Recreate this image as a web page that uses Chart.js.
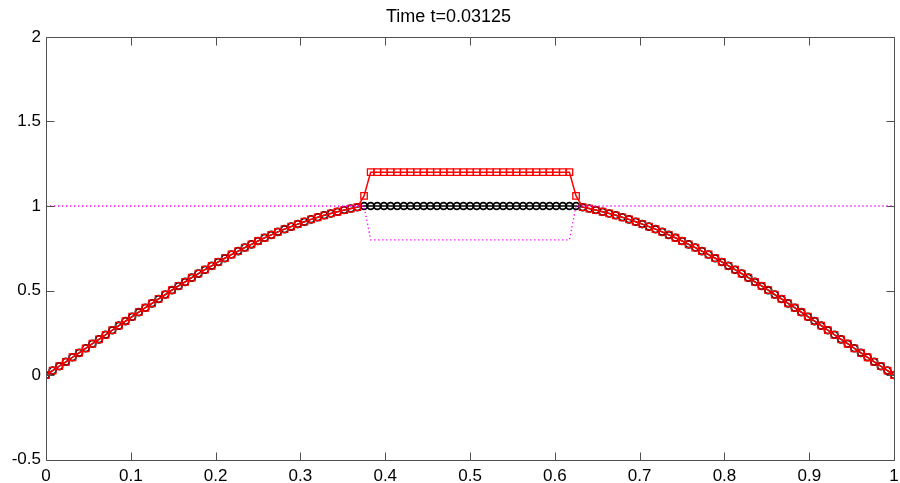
<!DOCTYPE html>
<html>
<head>
<meta charset="utf-8">
<script src="https://cdn.jsdelivr.net/npm/chart.js@4/dist/chart.umd.min.js"></script>
<style>
  body { margin: 0; background: #fff; }
  canvas { display: block; }
</style>
</head>
<body>
<canvas id="myChart" width="900" height="483"></canvas>
<script>
// grid nodes x_i = i/128
const xs = [0, 0.0078125, 0.015625, 0.0234375, 0.03125, 0.0390625, 0.046875, 0.0546875, 0.0625, 0.0703125,
    0.078125, 0.0859375, 0.09375, 0.1015625, 0.109375, 0.1171875, 0.125, 0.1328125, 0.140625, 0.1484375,
    0.15625, 0.1640625, 0.171875, 0.1796875, 0.1875, 0.1953125, 0.203125, 0.2109375, 0.21875, 0.2265625,
    0.234375, 0.2421875, 0.25, 0.2578125, 0.265625, 0.2734375, 0.28125, 0.2890625, 0.296875, 0.3046875,
    0.3125, 0.3203125, 0.328125, 0.3359375, 0.34375, 0.3515625, 0.359375, 0.3671875, 0.375, 0.3828125,
    0.390625, 0.3984375, 0.40625, 0.4140625, 0.421875, 0.4296875, 0.4375, 0.4453125, 0.453125, 0.4609375,
    0.46875, 0.4765625, 0.484375, 0.4921875, 0.5, 0.5078125, 0.515625, 0.5234375, 0.53125, 0.5390625,
    0.546875, 0.5546875, 0.5625, 0.5703125, 0.578125, 0.5859375, 0.59375, 0.6015625, 0.609375, 0.6171875,
    0.625, 0.6328125, 0.640625, 0.6484375, 0.65625, 0.6640625, 0.671875, 0.6796875, 0.6875, 0.6953125,
    0.703125, 0.7109375, 0.71875, 0.7265625, 0.734375, 0.7421875, 0.75, 0.7578125, 0.765625, 0.7734375,
    0.78125, 0.7890625, 0.796875, 0.8046875, 0.8125, 0.8203125, 0.828125, 0.8359375, 0.84375, 0.8515625,
    0.859375, 0.8671875, 0.875, 0.8828125, 0.890625, 0.8984375, 0.90625, 0.9140625, 0.921875, 0.9296875,
    0.9375, 0.9453125, 0.953125, 0.9609375, 0.96875, 0.9765625, 0.984375, 0.9921875, 1];

// solution u (black, circles)
const u = [0, 0.026, 0.052, 0.078, 0.105, 0.131, 0.158, 0.185, 0.211, 0.238,
    0.265, 0.292, 0.319, 0.345, 0.372, 0.398, 0.424, 0.450, 0.476, 0.502,
    0.527, 0.551, 0.576, 0.600, 0.623, 0.646, 0.669, 0.691, 0.713, 0.733,
    0.754, 0.773, 0.793, 0.812, 0.829, 0.847, 0.863, 0.878, 0.893, 0.907,
    0.921, 0.933, 0.945, 0.956, 0.966, 0.976, 0.985, 0.993, 1,
    1, 1, 1, 1, 1, 1, 1, 1, 1, 1, 1, 1, 1, 1, 1, 1, 1, 1, 1, 1, 1, 1, 1, 1, 1, 1, 1, 1, 1, 1, 1,
    1, 0.993, 0.985, 0.976, 0.966, 0.956, 0.945, 0.933, 0.921,
    0.907, 0.893, 0.878, 0.863, 0.847, 0.829, 0.812, 0.793, 0.773, 0.754,
    0.733, 0.713, 0.691, 0.669, 0.646, 0.623, 0.600, 0.576, 0.551, 0.527,
    0.502, 0.476, 0.450, 0.424, 0.398, 0.372, 0.345, 0.319, 0.292, 0.265,
    0.238, 0.211, 0.185, 0.158, 0.131, 0.105, 0.078, 0.052, 0.026, 0];

// second curve v (red, squares)
const v = [0, 0.026, 0.052, 0.078, 0.105, 0.131, 0.158, 0.185, 0.211, 0.238,
    0.265, 0.292, 0.319, 0.345, 0.372, 0.398, 0.424, 0.450, 0.476, 0.502,
    0.527, 0.551, 0.576, 0.600, 0.623, 0.646, 0.669, 0.691, 0.713, 0.733,
    0.754, 0.773, 0.793, 0.812, 0.829, 0.847, 0.863, 0.878, 0.893, 0.907,
    0.921, 0.933, 0.945, 0.956, 0.966, 0.976, 0.985, 0.993, 1.06,
    1.2, 1.2, 1.2, 1.2, 1.2, 1.2, 1.2, 1.2, 1.2, 1.2, 1.2, 1.2, 1.2, 1.2, 1.2, 1.2,
    1.2, 1.2, 1.2, 1.2, 1.2, 1.2, 1.2, 1.2, 1.2, 1.2, 1.2, 1.2, 1.2, 1.2, 1.2,
    1.06, 0.993, 0.985, 0.976, 0.966, 0.956, 0.945, 0.933, 0.921,
    0.907, 0.893, 0.878, 0.863, 0.847, 0.829, 0.812, 0.793, 0.773, 0.754,
    0.733, 0.713, 0.691, 0.669, 0.646, 0.623, 0.600, 0.576, 0.551, 0.527,
    0.502, 0.476, 0.450, 0.424, 0.398, 0.372, 0.345, 0.319, 0.292, 0.265,
    0.238, 0.211, 0.185, 0.158, 0.131, 0.105, 0.078, 0.052, 0.026, 0];

// obstacle (magenta, dotted)
const obst = [1, 1, 1, 1, 1, 1, 1, 1, 1, 1, 1, 1, 1, 1, 1, 1, 1, 1, 1, 1, 1, 1, 1, 1, 1,
    1, 1, 1, 1, 1, 1, 1, 1, 1, 1, 1, 1, 1, 1, 1, 1, 1, 1, 1, 1, 1, 1, 1, 1,
    0.8, 0.8, 0.8, 0.8, 0.8, 0.8, 0.8, 0.8, 0.8, 0.8, 0.8, 0.8, 0.8, 0.8, 0.8, 0.8,
    0.8, 0.8, 0.8, 0.8, 0.8, 0.8, 0.8, 0.8, 0.8, 0.8, 0.8, 0.8, 0.8, 0.8, 0.8,
    1, 1, 1, 1, 1, 1, 1, 1, 1, 1, 1, 1, 1, 1, 1, 1, 1, 1, 1, 1, 1, 1, 1, 1, 1,
    1, 1, 1, 1, 1, 1, 1, 1, 1, 1, 1, 1, 1, 1, 1, 1, 1, 1, 1, 1, 1, 1, 1, 1];

const titleText = 'Time t=0.03125';
const xRange = [0, 1];
const yRange = [-0.5, 2];
const xStep = 0.1;
const yStep = 0.5;

const FONT = "'Liberation Sans', Arial, sans-serif";
const pts = arr => arr.map((y, i) => ({x: xs[i], y: y}));
const fmt = val => String(+Number(val).toFixed(2));

// matlab-like box with inward ticks on all four sides
const boxAxes = {
    id: 'boxAxes',
    afterDraw(chart) {
        const {ctx, chartArea: a, scales: {x, y}} = chart;
        const L = Math.round(a.left) + 0.5, R = Math.round(a.right) + 0.5;
        const T = Math.round(a.top) + 0.5, B = Math.round(a.bottom) + 0.5;
        const len = 8;
        ctx.save();
        ctx.strokeStyle = '#505050';
        ctx.lineWidth = 1;
        ctx.beginPath();
        ctx.rect(L, T, R - L, B - T);
        x.ticks.forEach(t => {
            const px = Math.round(x.getPixelForValue(t.value)) + 0.5;
            ctx.moveTo(px, B); ctx.lineTo(px, B - len);
            ctx.moveTo(px, T); ctx.lineTo(px, T + len);
        });
        y.ticks.forEach(t => {
            const py = Math.round(y.getPixelForValue(t.value)) + 0.5;
            ctx.moveTo(L, py); ctx.lineTo(L + len, py);
            ctx.moveTo(R, py); ctx.lineTo(R - len, py);
        });
        ctx.stroke();
        ctx.restore();
    }
};

new Chart(document.getElementById('myChart'), {
    type: 'line',
    data: {
        datasets: [{
            label: 'obstacle',
            data: pts(obst),
            borderColor: '#ff00ff',
            borderWidth: 1.3,
            borderDash: [1.3, 2.7],
            pointRadius: 0,
            fill: false,
            tension: 0
        },
        {
            label: 'v',
            data: pts(v),
            borderColor: '#ff0000',
            borderWidth: 1.5,
            pointStyle: 'rect',
            pointRadius: 4.6,
            pointBorderWidth: 1.3,
            pointBorderColor: '#ff0000',
            pointBackgroundColor: 'rgba(0,0,0,0)',
            fill: false,
            tension: 0
        },
        {
            label: 'u',
            data: pts(u),
            borderColor: '#000000',
            borderWidth: 1.4,
            pointStyle: 'circle',
            pointRadius: 3.4,
            pointBorderWidth: 1.8,
            pointBorderColor: '#000000',
            pointBackgroundColor: 'rgba(0,0,0,0)',
            fill: false,
            tension: 0
        }]
    },
    options: {
        responsive: false,
        animation: false,
        layout: { padding: { left: 0, right: 3, top: 0, bottom: 0 } },
        plugins: {
            legend: { display: false },
            tooltip: { enabled: false },
            title: {
                display: true,
                text: titleText,
                color: '#000',
                font: { family: FONT, size: 18, weight: 'normal' },
                padding: { top: 6, bottom: 9.4 }
            }
        },
        scales: {
            x: {
                type: 'linear',
                min: xRange[0],
                max: xRange[1],
                grid: { display: false, drawTicks: false },
                border: { display: false },
                ticks: {
                    stepSize: xStep,
                    color: '#000',
                    padding: 7,
                    maxRotation: 0,
                    font: { family: FONT, size: 17 },
                    callback: fmt
                },
                afterFit(s) { s.height = 23.5; s.paddingLeft = 0; s.paddingRight = 0; }
            },
            y: {
                type: 'linear',
                min: yRange[0],
                max: yRange[1],
                grid: { display: false, drawTicks: false },
                border: { display: false },
                ticks: {
                    stepSize: yStep,
                    color: '#000',
                    padding: 5,
                    font: { family: FONT, size: 17 },
                    callback: fmt
                },
                afterFit(s) { s.width = 46; s.paddingTop = 0; s.paddingBottom = 0; }
            }
        }
    },
    plugins: [boxAxes]
});
</script>
</body>
</html>
